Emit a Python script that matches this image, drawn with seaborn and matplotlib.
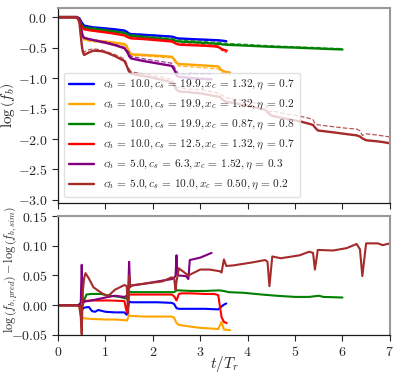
import numpy as np
import matplotlib
matplotlib.use("Agg")
import matplotlib.pyplot as plt
import seaborn as sns
from matplotlib.ticker import FuncFormatter

# time grids, simulated log(f_b) and residual log(f_pred) - log(f_sim)
t_blue = [0, 0.40, 0.45, 0.50, 0.55, 0.65, 0.72, 0.78, 0.85, 1.00, 1.20, 1.40, 1.45, 1.50,
          1.55, 1.80, 2.10, 2.40, 2.45, 2.50, 2.55, 2.80, 3.10, 3.38, 3.45, 3.50, 3.55]
sim_blue = [0, 0, -0.02, -0.09, -0.14, -0.155, -0.165, -0.17, -0.175, -0.185, -0.20, -0.22, -0.24, -0.27,
            -0.28, -0.29, -0.305, -0.32, -0.33, -0.345, -0.35, -0.36, -0.37, -0.38, -0.385, -0.39, -0.395]
dif_blue = [0, 0, -0.001, -0.008, -0.004, -0.003, -0.010, -0.011, -0.008, -0.011, -0.012, -0.012, -0.016, 0.006,
            0.005, 0.005, 0.005, 0.004, 0.002, -0.005, -0.006, -0.006, -0.006, -0.007, -0.002, 0.001, 0.003]

t_orange = [0, 0.40, 0.45, 0.50, 0.55, 0.70, 1.00, 1.20, 1.40, 1.45, 1.50, 1.55, 1.80,
            2.10, 2.40, 2.45, 2.50, 2.55, 2.80, 3.00, 3.20, 3.38, 3.45, 3.50, 3.55, 3.63]
sim_orange = [0, 0, -0.05, -0.25, -0.36, -0.38, -0.40, -0.42, -0.44, -0.48, -0.57, -0.61, -0.62,
              -0.635, -0.65, -0.69, -0.75, -0.77, -0.78, -0.79, -0.80, -0.81, -0.87, -0.89, -0.90, -0.91]
dif_orange = [0, 0, -0.002, -0.020, -0.022, -0.023, -0.024, -0.024, -0.025, -0.026, -0.017, -0.018, -0.019,
              -0.019, -0.019, -0.021, -0.030, -0.033, -0.036, -0.038, -0.039, -0.040, -0.028, -0.041, -0.041, -0.042]

t_green = [0, 0.40, 0.45, 0.50, 0.55, 0.60, 0.70, 0.90, 1.10, 1.30, 1.40, 1.45, 1.50, 1.55, 1.80, 2.10,
           2.40, 2.45, 2.50, 2.55, 2.80, 3.10, 3.40, 3.50, 3.60, 3.90, 4.30, 4.60, 5.00, 5.30, 5.50, 5.60, 6.00]
sim_green = [0, 0, -0.04, -0.13, -0.17, -0.18, -0.19, -0.21, -0.23, -0.25, -0.26, -0.28, -0.30, -0.31, -0.33, -0.35,
             -0.37, -0.38, -0.395, -0.40, -0.41, -0.425, -0.44, -0.45, -0.455, -0.465, -0.48, -0.49, -0.50, -0.51, -0.515, -0.52, -0.53]
dif_green = [0, 0, 0.001, -0.002, 0.008, 0.018, 0.019, 0.019, 0.016, 0.014, 0.012, 0.011, 0.023, 0.022, 0.022, 0.022,
             0.022, 0.022, 0.025, 0.025, 0.024, 0.024, 0.025, 0.024, 0.022, 0.021, 0.018, 0.016, 0.014, 0.014, 0.016, 0.014, 0.013]

t_red = [0, 0.40, 0.45, 0.50, 0.55, 0.70, 0.90, 1.10, 1.40, 1.45, 1.50, 1.55, 1.80,
         2.10, 2.40, 2.45, 2.50, 2.55, 2.60, 2.80, 3.10, 3.30, 3.38, 3.45, 3.50, 3.56]
sim_red = [0, 0, -0.05, -0.15, -0.20, -0.22, -0.24, -0.26, -0.30, -0.32, -0.34, -0.35, -0.36,
           -0.38, -0.40, -0.42, -0.44, -0.45, -0.455, -0.46, -0.47, -0.48, -0.49, -0.52, -0.54, -0.55]
dif_red = [0, 0, -0.001, -0.004, 0.007, 0.008, 0.008, 0.008, 0.007, -0.012, 0.018, 0.018, 0.018,
           0.018, 0.018, 0.015, 0.008, 0.019, 0.020, 0.020, 0.019, 0.019, 0.017, -0.020, -0.028, -0.030]

t_purple = [0, 0.40, 0.45, 0.48, 0.50, 0.52, 0.55, 0.70, 1.00, 1.20, 1.40, 1.45, 1.48, 1.50, 1.52,
            1.55, 1.80, 2.10, 2.40, 2.45, 2.48, 2.50, 2.52, 2.55, 2.70, 2.75, 2.78, 3.00, 3.24]
sim_purple = [0, 0, -0.05, -0.15, -0.25, -0.31, -0.34, -0.37, -0.42, -0.46, -0.51, -0.56, -0.60, -0.64, -0.66,
              -0.68, -0.72, -0.76, -0.80, -0.86, -0.91, -0.95, -0.97, -0.98, -0.99, -1.00, -1.00, -1.01, -1.02]
dif_purple = [0, 0, 0.001, 0.005, 0.068, 0.010, 0.006, 0.008, 0.013, 0.016, 0.014, 0.016, 0.020, 0.073, 0.034,
              0.033, 0.036, 0.040, 0.044, 0.046, 0.050, 0.084, 0.052, 0.050, 0.049, 0.044, 0.076, 0.080, 0.088]

t_brown = [0, 0.40, 0.45, 0.48, 0.50, 0.52, 0.55, 0.58, 0.65, 0.75,
           0.93, 1.05, 1.20, 1.40, 1.45, 1.48, 1.50, 1.52, 1.55, 1.60,
           1.90, 2.20, 2.40, 2.45, 2.48, 2.50, 2.55, 2.75, 2.85, 3.00,
           3.20, 3.42, 3.45, 3.50, 3.55, 3.70, 4.10, 4.37, 4.42, 4.46,
           4.52, 4.70, 5.10, 5.30, 5.38, 5.42, 5.48, 5.80, 6.09, 6.30,
           6.37, 6.42, 6.50, 6.75, 6.85, 7.00]
sim_brown = [0, 0, -0.08, -0.30, -0.45, -0.56, -0.62, -0.61, -0.58, -0.55,
             -0.56, -0.59, -0.64, -0.72, -0.80, -0.86, -0.89, -0.91, -0.93, -0.94,
             -0.98, -1.03, -1.07, -1.12, -1.16, -1.19, -1.22, -1.23, -1.24, -1.25,
             -1.28, -1.31, -1.34, -1.37, -1.39, -1.41, -1.47, -1.52, -1.56, -1.59,
             -1.62, -1.65, -1.71, -1.75, -1.77, -1.81, -1.86, -1.89, -1.92, -1.94,
             -1.96, -1.99, -2.02, -2.04, -2.05, -2.07]
dif_brown = [0, 0, -0.002, -0.020, -0.049, 0.020, 0.045, 0.054, 0.045, 0.030,
             0.020, 0.015, 0.026, 0.034, 0.032, -0.014, 0.050, 0.030, 0.033, 0.034,
             0.037, 0.040, 0.047, 0.045, 0.026, 0.040, 0.062, 0.050, 0.054, 0.060,
             0.060, 0.057, 0.055, 0.077, 0.066, 0.067, 0.072, 0.076, 0.073, 0.032,
             0.082, 0.079, 0.084, 0.090, 0.088, 0.060, 0.093, 0.092, 0.096, 0.103,
             0.094, 0.049, 0.104, 0.104, 0.101, 0.104]

c_h = ["10.0", "10.0", "10.0", "10.0", "5.0", "5.0"]
c_s = ["19.9", "19.9", "19.9", "12.5", "6.3", "10.0"]
x_c = ["1.32", "1.32", "0.87", "1.32", "1.52", "0.50"]
eta = ["0.7", "0.2", "0.8", "0.7", "0.3", "0.2"]
labels = [r"$c_h\,{=}\,%s{,}\,c_s\,{=}\,%s{,}\,x_c\,{=}\,%s{,}\,\eta\,{=}\,%s$" % p
          for p in zip(c_h, c_s, x_c, eta)]
colors = ["blue", "orange", "green", "red", "purple", "brown"]
times = [t_blue, t_orange, t_green, t_red, t_purple, t_brown]
sims = [sim_blue, sim_orange, sim_green, sim_red, sim_purple, sim_brown]
difs = [dif_blue, dif_orange, dif_green, dif_red, dif_purple, dif_brown]

sns.set_style("ticks")
plt.rcParams["mathtext.fontset"] = "cm"
plt.rcParams["font.family"] = ["DejaVu Serif"]

fig = plt.figure(figsize=(3.99, 3.73), dpi=100)
ax1 = fig.add_axes([0.1454, 0.4558, 0.8316, 0.5228])
ax2 = fig.add_axes([0.1454, 0.1019, 0.8316, 0.3190])

for t, s, d, c, lab in zip(times, sims, difs, colors, labels):
    t = np.array(t); s = np.array(s); d = np.array(d)
    sns.lineplot(x=t, y=s, color=c, lw=1.7, ax=ax1, label=lab, sort=False)
    sns.lineplot(x=t, y=s + d, color=c, lw=0.9, ls="--", ax=ax1, alpha=0.8, sort=False)
    sns.lineplot(x=t, y=d, color=c, lw=1.5, ax=ax2, sort=False)

ax1.set_xlim(0, 7)
ax1.set_ylim(-3.05, 0.15)
ax1.set_yticks([0.0, -0.5, -1.0, -1.5, -2.0, -2.5, -3.0])
ax1.set_xticks(range(8))
ax1.set_xticklabels([])
ax1.yaxis.set_major_formatter(FuncFormatter(lambda v, _: f"${v:.1f}$"))
ax1.set_ylabel(r"$\log\left(f_b\right)$", fontsize=11)
ax1.yaxis.set_label_coords(-0.125, 0.5)

ax2.set_xlim(0, 7)
ax2.set_ylim(-0.05, 0.15)
ax2.set_yticks([-0.05, 0.0, 0.05, 0.10, 0.15])
ax2.set_xticks(range(8))
ax2.yaxis.set_major_formatter(FuncFormatter(lambda v, _: f"${v:.2f}$"))
ax2.xaxis.set_major_formatter(FuncFormatter(lambda v, _: f"${v:.0f}$"))
ax2.set_ylabel(r"$\log\left(f_{b,pred}\right)-\log\left(f_{b,sim}\right)$", fontsize=8.8)
ax2.yaxis.set_label_coords(-0.115, 0.55)
ax2.set_xlabel(r"$t/T_r$", fontsize=11)
ax2.xaxis.set_label_coords(0.5, -0.16)

for ax in (ax1, ax2):
    ax.tick_params(labelsize=10, length=4, width=0.8, direction="out")
    for side in ("top", "right"):
        ax.spines[side].set_color("0.6")
        ax.spines[side].set_linewidth(1.5)
    for side in ("left", "bottom"):
        ax.spines[side].set_color("0.1")
        ax.spines[side].set_linewidth(0.9)

ax1.legend(loc="lower left", fontsize=8.2, framealpha=0.8, edgecolor="0.85",
           handlelength=2.2, borderpad=0.45, labelspacing=0.5)

fig.savefig("out.png", dpi=100)
